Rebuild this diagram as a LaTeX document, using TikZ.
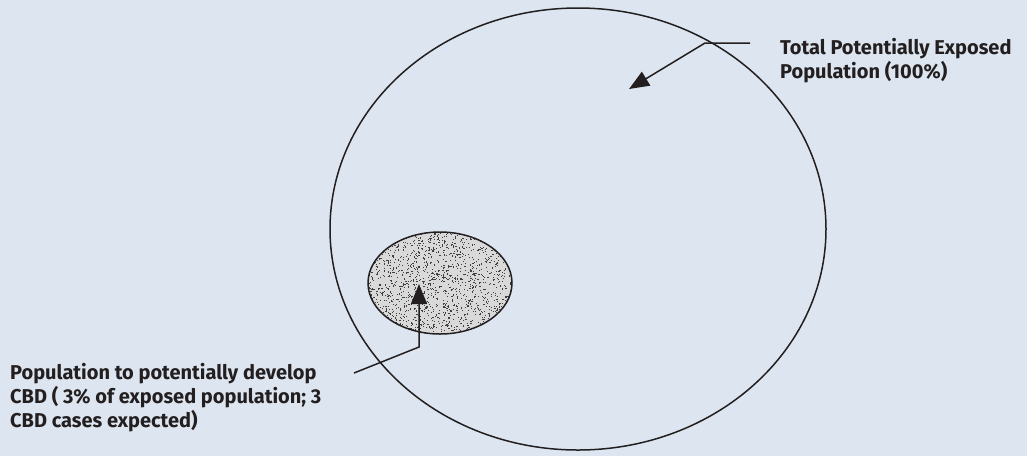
\documentclass[tikz,border=0pt]{standalone}
\usepackage{fontspec}
\setmainfont{Fira Sans}
\usetikzlibrary{arrows.meta,shapes.geometric}
\definecolor{bg}{HTML}{DDE6F0}
\definecolor{ink}{HTML}{231F20}
\tikzset{
  lbl/.style={font=\bfseries\fontsize{20}{24}\selectfont, text=ink, align=left, inner sep=0pt},
  lead/.style={draw=ink, line width=1.5pt, -{Triangle[length=20pt,width=16pt]}},
  outline/.style={draw=ink, line width=1.5pt}
}
\begin{document}
\begin{tikzpicture}[x=1pt,y=-1pt]
\useasboundingbox (0,0) rectangle (1027,456);
\fill[bg] (0,0) rectangle (1027,456);
\node[outline, ellipse, minimum width=496pt, minimum height=442pt, inner sep=0pt] (total) at (578,229) {};
\begin{scope}
\clip (440,283) ellipse [x radius=72, y radius=51];
\fill[gray!30] (440,283) ellipse [x radius=72, y radius=51];
\pgfmathsetseed{7}
\foreach \i in {1,...,1600}{
  \pgfmathsetmacro{\px}{368+144*rnd}
  \pgfmathsetmacro{\py}{232+102*rnd}
  \fill[black!75] (\px,\py) rectangle ++(1.1,1.1);
}
\end{scope}
\node[outline, ellipse, minimum width=144pt, minimum height=102pt, inner sep=0pt] (cbd) at (440,283) {};
\node[lbl, anchor=north west] (ttext) at (780,38.5) {Total Potentially Exposed\\Population (100\%)};
\node[lbl, anchor=north west] (ctext) at (10,363.5) {Population to potentially develop\\CBD ( 3\% of exposed population; 3\\CBD cases expected)};
\coordinate (t0) at (750,43);
\coordinate (t1) at (705,43);
\coordinate (tip1) at (629,89);
\coordinate (c0) at (354,373);
\coordinate (c1) at (419,347);
\coordinate (tip2) at (419,284);
\draw[lead] (t0) -- (t1) -- (tip1);
\draw[lead] (c0) -- (c1) -- (tip2);
\end{tikzpicture}
\end{document}
